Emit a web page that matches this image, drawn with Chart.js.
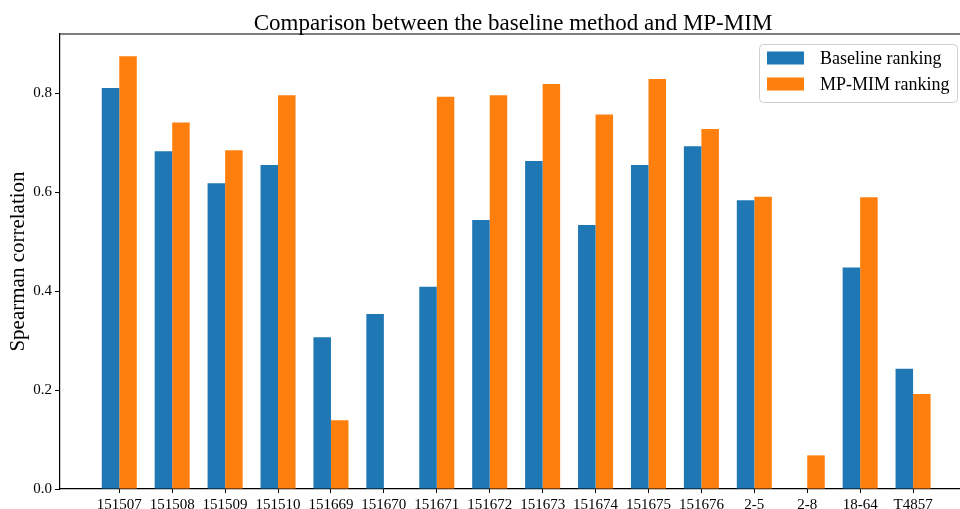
<!DOCTYPE html>
<html>
<head>
<meta charset="utf-8">
<script src="https://cdn.jsdelivr.net/npm/chart.js@4.4.1/dist/chart.umd.min.js"></script>
<style>
  html, body { margin: 0; padding: 0; background: #fff; overflow: hidden; width: 960px; height: 509px; }
  canvas { display: block; }
</style>
</head>
<body>
<canvas id="comparisonChart" width="970" height="509"></canvas>
<script>
const categories = ['151507', '151508', '151509', '151510', '151669', '151670', '151671', '151672',
    '151673', '151674', '151675', '151676', '2-5', '2-8', '18-64', 'T4857'];
const baselineRanking = [0.811, 0.683, 0.618, 0.655, 0.307, 0.354, 0.409, 0.544,
    0.663, 0.534, 0.655, 0.693, 0.584, null, 0.448, 0.243];
const mpmimRanking = [0.875, 0.741, 0.685, 0.796, 0.139, null, 0.793, 0.796,
    0.819, 0.757, 0.829, 0.728, 0.591, 0.068, 0.590, 0.192];
const yTicks = [0, 0.2, 0.4, 0.6, 0.8];

const serif = '"Liberation Serif", "Times New Roman", serif';

// title centred over the axes, top spine, and a matplotlib style legend box
const decorPlugin = {
    id: 'decor',
    afterDraw(chart) {
        const ctx = chart.ctx;
        const area = chart.chartArea;
        ctx.save();

        ctx.strokeStyle = '#000';
        ctx.lineWidth = 1.2;
        ctx.beginPath();
        ctx.moveTo(area.left, area.top);
        ctx.lineTo(area.right, area.top);
        ctx.stroke();

        ctx.fillStyle = '#000';
        ctx.font = '23px ' + serif;
        ctx.textAlign = 'center';
        ctx.textBaseline = 'alphabetic';
        ctx.fillText('Comparison between the baseline method and MP-MIM', (area.left + area.right) / 2, 30);

        // legend
        const x = 759, y = 44, w = 198, h = 58;
        ctx.fillStyle = 'rgba(255,255,255,0.8)';
        ctx.strokeStyle = '#d0d0d0';
        ctx.lineWidth = 1;
        ctx.beginPath();
        ctx.roundRect(x + 0.5, y + 0.5, w, h, 4);
        ctx.fill();
        ctx.stroke();

        ctx.font = '18px ' + serif;
        ctx.textAlign = 'left';
        ctx.textBaseline = 'middle';
        chart.data.datasets.forEach((ds, i) => {
            const cy = 58 + i * 26;
            ctx.fillStyle = ds.backgroundColor;
            ctx.fillRect(767, cy - 6.5, 37, 13);
            ctx.fillStyle = '#000';
            ctx.fillText(ds.label, 820, cy + 1);
        });
        ctx.restore();
    }
};

const toPoints = values => values.map((v, i) => ({ x: i, y: v }));

new Chart(document.getElementById('comparisonChart').getContext('2d'), {
    type: 'bar',
    data: {
        datasets: [
            {
                label: 'Baseline ranking',
                data: toPoints(baselineRanking),
                backgroundColor: '#1f77b4',
                borderWidth: 0,
                barPercentage: 1,
                categoryPercentage: 0.662
            },
            {
                label: 'MP-MIM ranking',
                data: toPoints(mpmimRanking),
                backgroundColor: '#ff7f0e',
                borderWidth: 0,
                barPercentage: 1,
                categoryPercentage: 0.662
            }
        ]
    },
    options: {
        responsive: false,
        animation: false,
        devicePixelRatio: 1,
        layout: { padding: { top: 34, right: 4, left: 0, bottom: 0 } },
        plugins: {
            legend: { display: false },
            title: { display: false },
            tooltip: { enabled: false }
        },
        scales: {
            x: {
                type: 'linear',
                min: -1.12,
                max: 16,
                offset: false,
                afterBuildTicks: axis => {
                    axis.ticks = categories.map((_, i) => ({ value: i }));
                },
                afterFit: scale => { scale.height = 20; },
                ticks: {
                    autoSkip: false,
                    maxRotation: 0,
                    padding: 3,
                    color: '#000',
                    font: { family: serif, size: 15 },
                    callback: v => categories[v]
                },
                grid: {
                    display: true,
                    offset: false,
                    drawOnChartArea: false,
                    drawTicks: true,
                    tickLength: 4,
                    color: '#000'
                },
                border: { display: true, color: '#000', width: 1.2 }
            },
            y: {
                min: 0,
                max: 0.92,
                afterBuildTicks: axis => {
                    axis.ticks = yTicks.map(v => ({ value: v }));
                },
                afterFit: scale => { scale.width = 60; },
                ticks: {
                    padding: 3,
                    color: '#000',
                    font: { family: serif, size: 15 },
                    callback: v => v.toFixed(1)
                },
                grid: {
                    display: true,
                    drawOnChartArea: false,
                    drawTicks: true,
                    tickLength: 5,
                    color: '#000'
                },
                border: { display: true, color: '#000', width: 1.2 },
                title: {
                    display: true,
                    text: 'Spearman correlation',
                    color: '#000',
                    font: { family: serif, size: 21 },
                    padding: { top: 6, bottom: 0 }
                }
            }
        }
    },
    plugins: [decorPlugin]
});
</script>
</body>
</html>
